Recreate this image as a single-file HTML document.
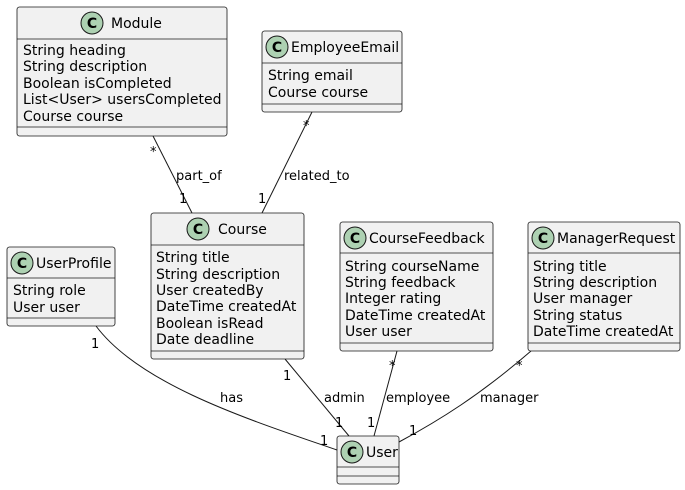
<!DOCTYPE html>
<html><head><meta charset="utf-8"><style>
html,body{margin:0;padding:0;background:#fff;}
svg{display:block;}
text{font-family:"DejaVu Sans","Liberation Sans",sans-serif;font-size:14px;fill:#000;}
.s{font-size:13px;}
</style></head><body>
<svg width="685" height="490" viewBox="0 0 685 490" xmlns="http://www.w3.org/2000/svg">
<defs>
<g id="ci"><circle r="11" fill="#ADD1B2" stroke="#181818" stroke-width="1"/><text x="0" y="5" text-anchor="middle" style="font-size:14px;font-weight:bold">C</text></g>
</defs>
<g fill="none" stroke="#181818" stroke-width="1">
<path d="M153,136 L192,213"/>
<path d="M312,112 L262,213"/>
<path d="M96,326 C140,385 250,420 337,450"/>
<path d="M285,359 L349,436"/>
<path d="M397,351 L374,436"/>
<path d="M531,351 C480,395 440,420 399,442"/>
</g>
<g fill="#F1F1F1" stroke="#181818" stroke-width="0.8">
<rect x="17" y="7" width="210" height="129" rx="2.5"/>
<rect x="262" y="31" width="140" height="81" rx="2.5"/>
<rect x="151" y="213" width="153" height="146" rx="2.5"/>
<rect x="7" y="247" width="108" height="79" rx="2.5"/>
<rect x="340" y="222" width="153" height="129" rx="2.5"/>
<rect x="528" y="222" width="152" height="129" rx="2.5"/>
<rect x="337" y="436" width="62" height="48" rx="2.5"/>
</g>
<g stroke="#181818" stroke-width="0.8">
<path d="M17,39H227M17,127H227"/>
<path d="M262,63H402M262,104H402"/>
<path d="M151,245H304M151,351H304"/>
<path d="M7,278H115M7,318H115"/>
<path d="M340,253H493M340,343H493"/>
<path d="M528,253H680M528,343H680"/>
<path d="M337,467H399M337,476H399"/>
</g>
<use href="#ci" x="92" y="23"/><text x="111" y="28">Module</text>
<text x="23" y="55">String heading</text>
<text x="23" y="71">String description</text>
<text x="23" y="88">Boolean isCompleted</text>
<text x="23" y="104">List&lt;User&gt; usersCompleted</text>
<text x="23" y="121">Course course</text>
<use href="#ci" x="277" y="47"/><text x="291" y="52">EmployeeEmail</text>
<text x="268" y="80">String email</text>
<text x="268" y="97">Course course</text>
<use href="#ci" x="198" y="229"/><text x="218" y="234">Course</text>
<text x="156" y="262">String title</text>
<text x="156" y="279">String description</text>
<text x="156" y="295">User createdBy</text>
<text x="156" y="311">DateTime createdAt</text>
<text x="156" y="328">Boolean isRead</text>
<text x="156" y="344">Date deadline</text>
<use href="#ci" x="22" y="263"/><text x="36" y="268">UserProfile</text>
<text x="13" y="295">String role</text>
<text x="13" y="312">User user</text>
<use href="#ci" x="355" y="238"/><text x="369" y="243">CourseFeedback</text>
<text x="345" y="271">String courseName</text>
<text x="345" y="287">String feedback</text>
<text x="345" y="303">Integer rating</text>
<text x="345" y="320">DateTime createdAt</text>
<text x="345" y="336">User user</text>
<use href="#ci" x="543" y="238"/><text x="557" y="243">ManagerRequest</text>
<text x="533" y="271">String title</text>
<text x="533" y="287">String description</text>
<text x="533" y="303">User manager</text>
<text x="533" y="320">String status</text>
<text x="533" y="336">DateTime createdAt</text>
<use href="#ci" x="352" y="452"/><text x="366" y="457">User</text>
<g class="lbl">
<text class="s" x="150" y="156">*</text>
<text class="s" x="176" y="180">part_of</text>
<text class="s" x="179" y="203">1</text>
<text class="s" x="303" y="130">*</text>
<text class="s" x="284" y="180">related_to</text>
<text class="s" x="258" y="203">1</text>
<text class="s" x="91" y="348">1</text>
<text class="s" x="220" y="402">has</text>
<text class="s" x="320" y="445">1</text>
<text class="s" x="283" y="380">1</text>
<text class="s" x="324" y="402">admin</text>
<text class="s" x="335" y="427">1</text>
<text class="s" x="389" y="370">*</text>
<text class="s" x="386" y="402">employee</text>
<text class="s" x="367" y="427">1</text>
<text class="s" x="516" y="370">*</text>
<text class="s" x="480" y="402">manager</text>
<text class="s" x="409" y="435">1</text>
</g>
</svg>
</body></html>
